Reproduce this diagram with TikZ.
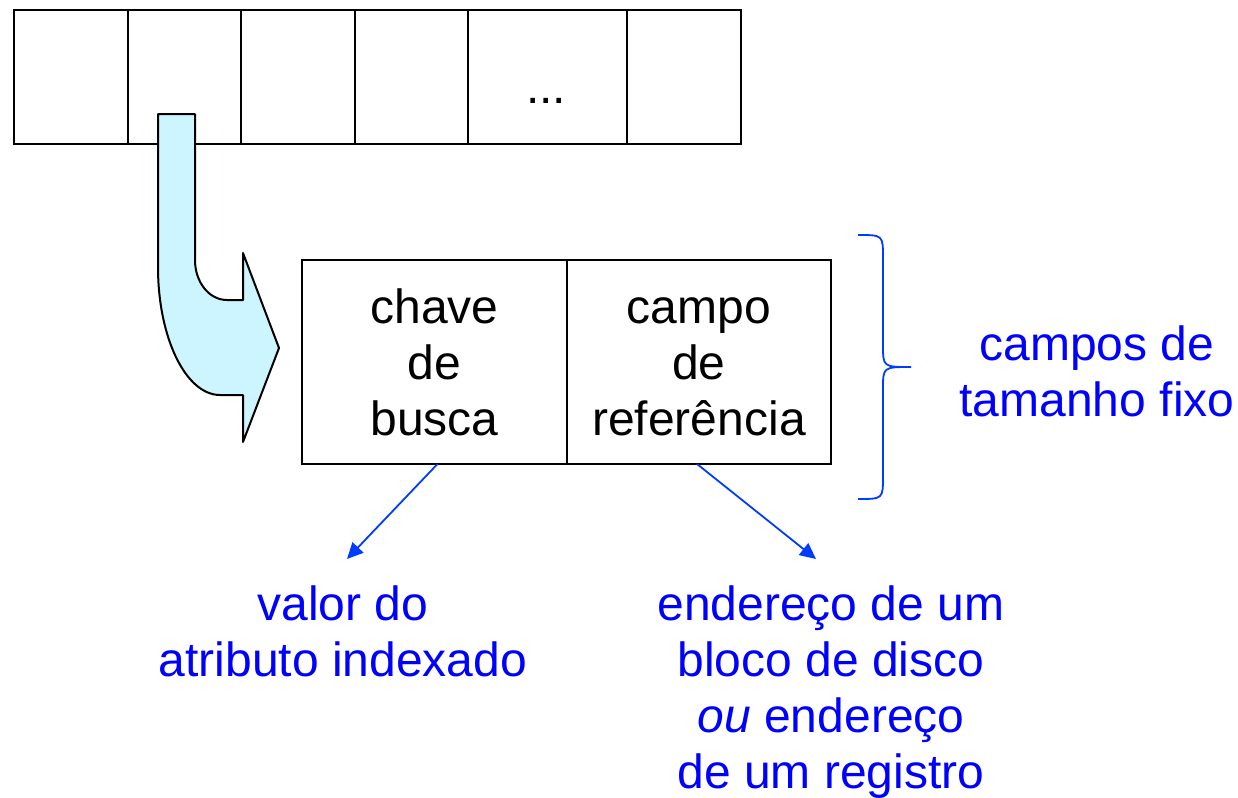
\documentclass[tikz,border=0pt]{standalone}
\usepackage{fontspec}
\setmainfont{Liberation Sans}
\usepackage{tikz}
\usetikzlibrary{positioning, arrows.meta}
\definecolor{azul}{RGB}{0, 0, 255}
\definecolor{azulLinha}{RGB}{0, 60, 255}
\definecolor{ciano}{RGB}{204, 245, 255}
\tikzset{
    celula/.style={draw, rectangle, line width=1pt, minimum height=67pt, inner sep=0pt, outer sep=0pt},
    campoIdx/.style={draw, rectangle, line width=1pt, minimum width=132.5pt, minimum height=102pt, outer sep=0pt, align=center, font=\fontsize{24pt}{28pt}\selectfont},
    rotulo/.style={text=azul, align=center, font=\fontsize{24pt}{28pt}\selectfont},
    seta/.style={-{Triangle[length=8pt, width=7.5pt]}, azulLinha, line width=0.9pt},
    colchete/.style={azulLinha, line width=0.9pt},
    setaGrande/.style={draw=black, fill=ciano, line width=1pt, line join=round},
}
\begin{document}
\begin{tikzpicture}[x=0.5pt, y=-0.5pt]
            \useasboundingbox (0,0) rectangle (1238,798);

            \node [celula, minimum width=57pt] (c1) at (71,77) {};
            \node [celula, minimum width=56.5pt, right=0pt of c1] (c2) {};
            \node [celula, minimum width=57pt, right=0pt of c2] (c3) {};
            \node [celula, minimum width=56.5pt, right=0pt of c3] (c4) {};
            \node [celula, minimum width=79.5pt, right=0pt of c4] (c5) {};
            \node [celula, minimum width=57pt, right=0pt of c5] (c6) {};
            \node [font=\fontsize{24pt}{28pt}\selectfont] (pontos) at (546,101) {...};

            \draw[setaGrande] (158,114) -- (195,114) -- (195,260)
                .. controls (195,282) and (209,300) .. (227,300) -- (243,300) -- (243,253)
                -- (279,348) -- (243,442) -- (243,395) -- (220,395)
                .. controls (186,395) and (158,338) .. (158,267) -- cycle;

            \node [campoIdx] (chave) at (434.5,362) {chave\\de\\busca};
            \node [campoIdx, minimum width=132pt, right=0pt of chave] (campo) {\vphantom{h}campo\\de\\referência};

            \draw[colchete] (858,235) .. controls (883,235) .. (883,258) -- (883,345)
                .. controls (883,367) .. (911,367) .. controls (883,367) .. (883,389)
                -- (883,476) .. controls (883,499) .. (858,499);
            \node [rotulo] (tamanho) at (1097,371) {campos de\\tamanho fixo};

            \node [rotulo] (valor) at (343,631) {valor do\\atributo indexado};
            \node [rotulo] (endereco) at (831,692) {endereço de um\\bloco de disco\\\textit{ou} endereço\\de um registro};

            \coordinate (pontaValor) at (347,559);
            \coordinate (pontaEnd) at (816,559);
            \draw[seta] ([xshift=1.5pt]chave.south) -- (pontaValor);
            \draw[seta] ([xshift=-1pt]campo.south) -- (pontaEnd);
        \end{tikzpicture}
\end{document}
